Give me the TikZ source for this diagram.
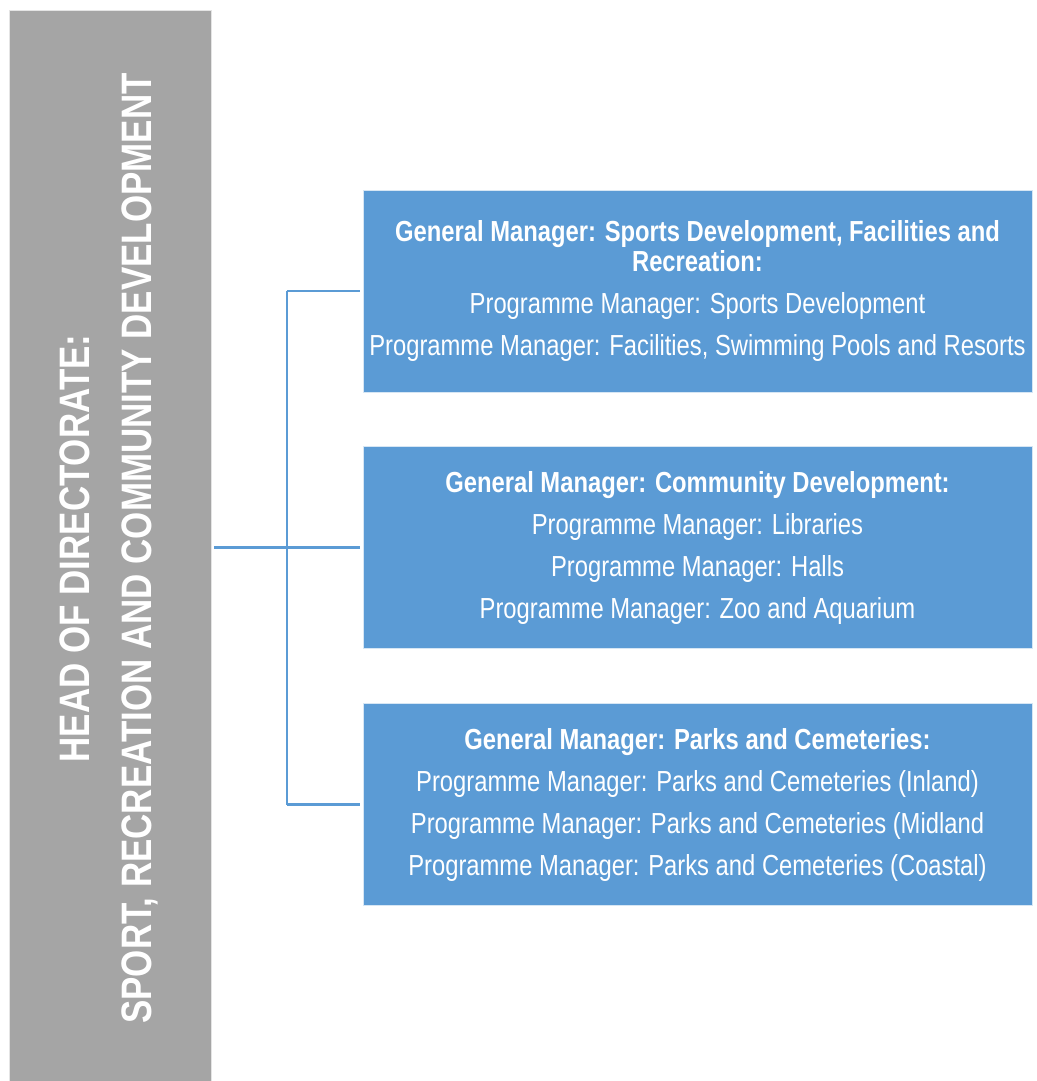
\documentclass[tikz,border=0pt]{standalone}
\usepackage{fontspec}
\setmainfont[FakeStretch=0.82]{Liberation Sans}
\usepackage{tikz}
\usetikzlibrary{positioning}
\usepackage{xcolor}
\definecolor{headgray}{HTML}{A5A5A5}
\definecolor{gmblue}{HTML}{5B9BD5}
\tikzset{
  gmbox/.style={fill=gmblue, draw=gmblue!25, line width=0.8pt, text=white, align=center,
    inner sep=0pt, minimum width=669pt, minimum height=202pt,
    font=\fontsize{29}{42}\selectfont},
  link/.style={draw=gmblue, line width=2.6pt},
}

\begin{document}
\begin{tikzpicture}[x=1pt, y=-1pt]
  \useasboundingbox (0,0) rectangle (1036,1081);
  % head of directorate
  \node[fill=headgray, draw=headgray!30, line width=0.8pt, inner sep=0pt,
    minimum width=202pt, minimum height=1071pt] (head) at (110,545.5) {};
  \node[rotate=90, text=white, align=center, font=\fontsize{42.6}{62}\selectfont\bfseries]
    (headtext) at ([xshift=-1pt,yshift=-3pt]head.center) {HEAD OF DIRECTORATE:\\ SPORT, RECREATION AND COMMUNITY DEVELOPMENT};
  % general managers
  \node[gmbox] (gm1) at (697.5,291)
    {\textbf{General Manager: Sports Development, Facilities and}\\[-12pt]
     \textbf{Recreation:}\\
     Programme Manager: Sports Development\\
     Programme Manager: Facilities, Swimming Pools and Resorts};
  \node[gmbox] (gm2) at (697.5,547.5)
    {\textbf{General Manager: Community Development:}\\
     Programme Manager: Libraries\\
     Programme Manager: Halls\\
     Programme Manager: Zoo and Aquarium};
  \node[gmbox] (gm3) at (697.5,804.5)
    {\textbf{General Manager: Parks and Cemeteries:}\\
     Programme Manager: Parks and Cemeteries (Inland)\\
     Programme Manager: Parks and Cemeteries (Midland\\
     Programme Manager: Parks and Cemeteries (Coastal)};
  % connectors
  \coordinate (fork) at (287,548);
  \draw[link, shorten <=3pt, shorten >=3pt] (head.east |- gm2.west) -- (gm2.west);
  \draw[link] (fork |- gm1.west) -- (fork |- gm3.west);
  \draw[link, shorten >=3pt] (fork |- gm1.west) -- (gm1.west);
  \draw[link, shorten >=3pt] (fork |- gm3.west) -- (gm3.west);
\end{tikzpicture}
\end{document}
